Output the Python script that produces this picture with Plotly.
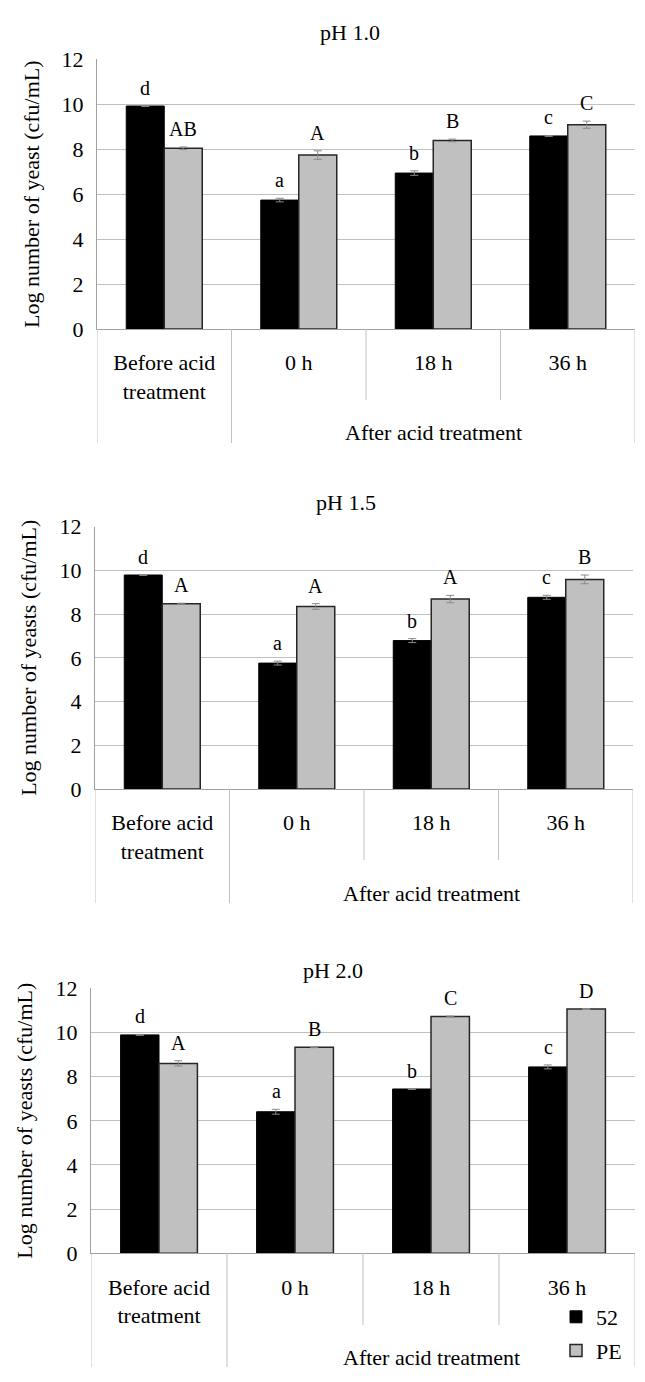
import plotly.graph_objects as go

# categories and series
categories = ["Before acid<br>treatment", "0 h", "18 h", "36 h"]
series_names = ["52", "PE"]
titles = ["pH 1.0", "pH 1.5", "pH 2.0"]
ytitles = ["Log number of yeast (cfu/mL)", "Log number of yeasts (cfu/mL)", "Log number of yeasts (cfu/mL)"]
group_label = "After acid treatment"

ph10_52 = [9.91, 5.73, 6.93, 8.58]
ph10_52_err = [0.02, 0.08, 0.10, 0.02]
ph10_pe = [8.03, 7.73, 8.38, 9.08]
ph10_pe_err = [0.06, 0.19, 0.06, 0.16]
ph10_52_letters = ["d", "a", "b", "c"]
ph10_pe_letters = ["AB", "A", "B", "C"]

ph15_52 = [9.79, 5.76, 6.79, 8.77]
ph15_52_err = [0.02, 0.09, 0.09, 0.09]
ph15_pe = [8.48, 8.35, 8.69, 9.59]
ph15_pe_err = [0.02, 0.13, 0.17, 0.20]
ph15_52_letters = ["d", "a", "b", "c"]
ph15_pe_letters = ["A", "A", "A", "B"]

ph20_52 = [9.89, 6.41, 7.44, 8.44]
ph20_52_err = [0.02, 0.11, 0.02, 0.09]
ph20_pe = [8.60, 9.33, 10.72, 11.06]
ph20_pe_err = [0.12, 0.02, 0.02, 0.02]
ph20_52_letters = ["d", "a", "b", "c"]
ph20_pe_letters = ["A", "B", "C", "D"]

panels = [
    (ph10_52, ph10_52_err, ph10_pe, ph10_pe_err, ph10_52_letters, ph10_pe_letters),
    (ph15_52, ph15_52_err, ph15_pe, ph15_pe_err, ph15_52_letters, ph15_pe_letters),
    (ph20_52, ph20_52_err, ph20_pe, ph20_pe_err, ph20_52_letters, ph20_pe_letters),
]

# page body has an 8px margin, so the figure is a bit smaller than the window
PAD = 8
W, H = 629, 1366
FONT = "Liberation Serif"
GRID = "#c0c0c0"

# panel boxes in window pixels: left, right, top, bottom, full divider end, short divider end,
# title x, title y, y-title x, group label y
boxes = [
    (97, 635, 59, 329, 443, 400, 350, 33, 31, 432),
    (95, 633, 526.7, 789, 903, 860, 346, 502, 29, 893),
    (91, 635, 988.3, 1253.3, 1367, 1325, 333, 970, 25, 1357),
]

def px_x(v):
    return (v - PAD) / W

def px_y(v):
    return 1 - (v - PAD) / H

fig = go.Figure()
shapes = []
annotations = []
xs = list(range(len(categories)))
txt = dict(family=FONT, size=22, color="black")

for i, (b52, e52, bpe, epe, l52, lpe) in enumerate(panels):
    n = "" if i == 0 else str(i + 1)
    left, right, top, bottom, full_end, short_end, tx, ty, ytx, gy = boxes[i]
    show = i == 2
    fig.add_trace(go.Bar(
        x=xs, y=b52, name=series_names[0], xaxis="x" + n, yaxis="y" + n,
        marker=dict(color="black", line=dict(color="black", width=1)),
        error_y=dict(type="data", array=e52, color="#8a8a8a", thickness=1, width=4),
        showlegend=show, legendgroup="a"))
    fig.add_trace(go.Bar(
        x=xs, y=bpe, name=series_names[1], xaxis="x" + n, yaxis="y" + n,
        marker=dict(color="#c0c0c0", line=dict(color="#262626", width=1.5)),
        error_y=dict(type="data", array=epe, color="#8a8a8a", thickness=1, width=4),
        showlegend=show, legendgroup="b"))

    fig.update_layout(**{
        "xaxis" + n: dict(domain=[px_x(left), px_x(right)], anchor="y" + n, range=[-0.5, 3.5],
                          tickvals=xs, ticktext=categories, showgrid=False, zeroline=False,
                          showline=True, linecolor="#a0a0a0", linewidth=1, ticks="",
                          ticklabelstandoff=14, tickfont=txt, automargin=False),
        "yaxis" + n: dict(domain=[px_y(bottom), px_y(top)], anchor="x" + n, range=[0, 12],
                          tickvals=[0, 2, 4, 6, 8, 10, 12], showgrid=True, gridcolor=GRID,
                          gridwidth=1, zeroline=False, showline=True, linecolor="#a0a0a0",
                          linewidth=1, ticks="", ticklabelstandoff=8, tickfont=txt,
                          automargin=False),
    })

    # category separators below the axis
    for j, xb in enumerate([-0.5, 0.5, 1.5, 2.5, 3.5]):
        end = short_end if j in (2, 3) else full_end
        shapes.append(dict(type="line", xref="x" + n, yref="paper", x0=xb, x1=xb,
                           y0=px_y(bottom), y1=px_y(end), line=dict(color=GRID, width=1)))

    annotations.append(dict(text=titles[i], x=px_x(tx), y=px_y(ty), xref="paper", yref="paper",
                            xanchor="center", yanchor="middle", showarrow=False, font=txt))
    annotations.append(dict(text=ytitles[i], x=px_x(ytx), y=(px_y(top) + px_y(bottom)) / 2,
                            xref="paper", yref="paper", xanchor="center", yanchor="middle",
                            textangle=-90, showarrow=False, font=txt))
    annotations.append(dict(text=group_label, x=2, y=px_y(gy), xref="x" + n, yref="paper",
                            xanchor="center", yanchor="middle", showarrow=False, font=txt))

    # significance letters over each bar
    for k in range(len(categories)):
        annotations.append(dict(text=l52[k], x=k, y=b52[k] + e52[k], xref="x" + n, yref="y" + n,
                                xshift=-19, yshift=5, xanchor="center", yanchor="bottom",
                                showarrow=False, font=dict(family=FONT, size=20, color="black")))
        annotations.append(dict(text=lpe[k], x=k, y=bpe[k] + epe[k], xref="x" + n, yref="y" + n,
                                xshift=19, yshift=5, xanchor="center", yanchor="bottom",
                                showarrow=False, font=dict(family=FONT, size=20, color="black")))

fig.update_layout(
    width=W, height=H,
    margin=dict(l=0, r=0, t=0, b=0, pad=0, autoexpand=False),
    paper_bgcolor="white", plot_bgcolor="white",
    barmode="group", bargap=0.435, bargroupgap=0,
    shapes=shapes, annotations=annotations,
    legend=dict(x=px_x(556), y=px_y(1296), xanchor="left", yanchor="top",
                font=txt, traceorder="grouped", tracegroupgap=2,
                bgcolor="rgba(0,0,0,0)", itemwidth=30),
    font=dict(family=FONT),
)

fig.write_html("out.html")
